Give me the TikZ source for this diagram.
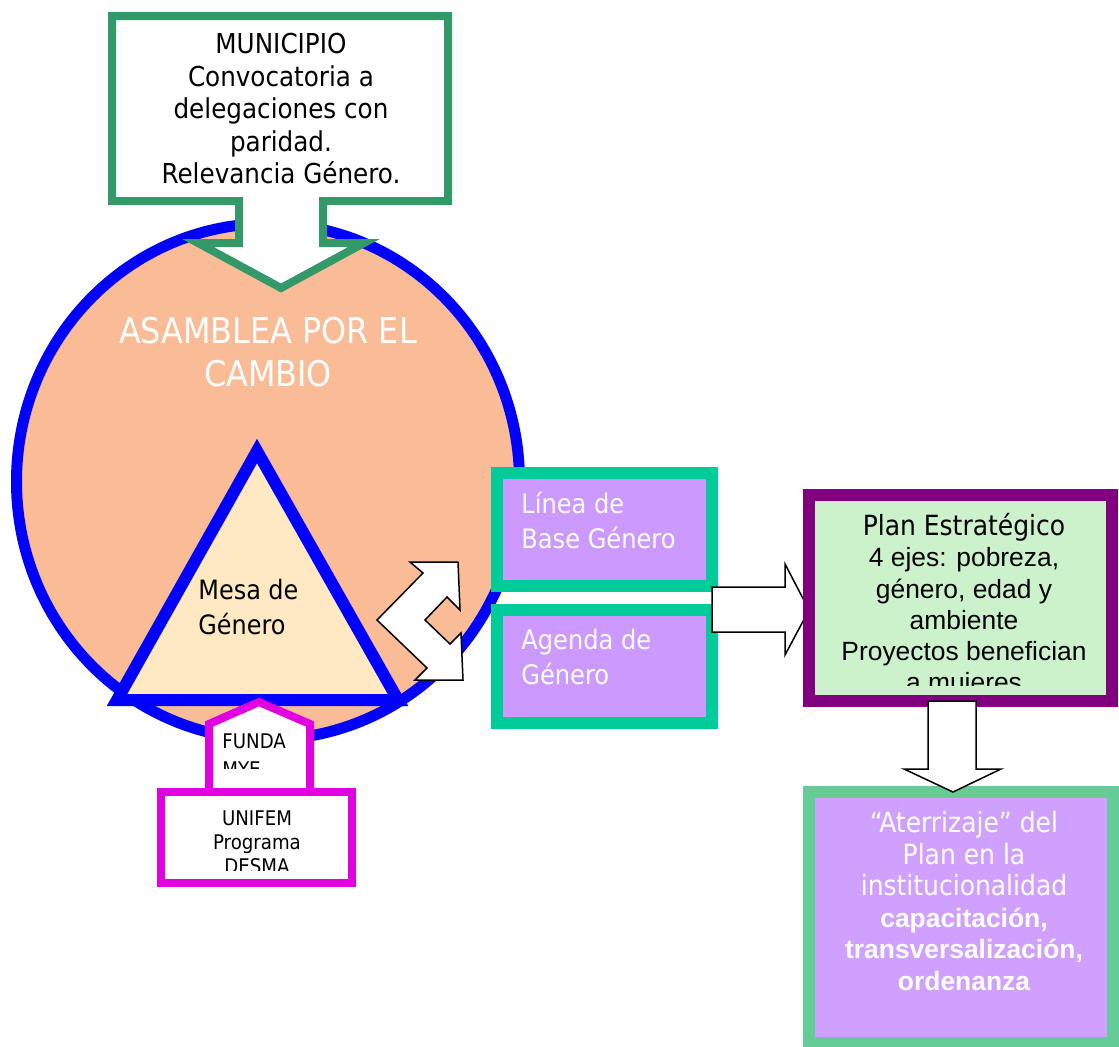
\documentclass[tikz,border=0pt]{standalone}
\usepackage{fontspec}
\setmainfont{DejaVu Sans Condensed}
\newfontfamily\arialfont{Liberation Sans}
\newcommand{\arialbold}{\arialfont\bfseries\fontsize{13.2}{15.8}\selectfont}

\definecolor{peach}{RGB}{250,188,150}
\definecolor{cream}{RGB}{255,233,194}
\definecolor{callgreen}{RGB}{52,153,104}
\definecolor{boxteal}{RGB}{0,204,153}
\definecolor{lilac}{RGB}{204,153,255}
\definecolor{palelilac}{RGB}{208,160,255}
\definecolor{planpurple}{RGB}{128,0,128}
\definecolor{planfill}{RGB}{204,242,204}
\definecolor{landgreen}{RGB}{100,204,150}
\definecolor{fundamag}{RGB}{224,0,224}

\tikzset{
  blockarrow/.style={draw=black, fill=white, line width=0.75pt},
  txt/.style={inner sep=0pt, anchor=north, align=center},
}

\begin{document}
\begin{tikzpicture}[x=0.5pt, y=-0.5pt]
    \useasboundingbox (0,0) rectangle (1119,1046);

    % asamblea
    \draw [blue, line width=5.5pt, fill=peach] (268,481.5) ellipse [x radius=251.5, y radius=258];
    \draw [blue, line width=6pt, fill=cream] (257,451) -- (398,700) -- (117,700) -- cycle;
    \node [txt, white, font=\fontsize{17.7}{21.5}\selectfont] (asamblea) at (268,317) {ASAMBLEA POR EL\\CAMBIO};
    \node [txt, anchor=north west, align=left, font=\fontsize{13.3}{17.5}\selectfont] (mesa) at (198,579) {Mesa de\\Género};

    % municipio
    \draw [callgreen, line width=4pt, fill=white] (112,16) -- (448,16) -- (448,201) -- (323,201) -- (323,243) -- (364,243) -- (281,288) -- (198,243) -- (239,243) -- (239,201) -- (112,201) -- cycle;
    \node [txt, font=\fontsize{13.7}{16.25}\selectfont] (municipio) at (281,33) {MUNICIPIO\\Convocatoria a\\delegaciones con\\paridad.\\Relevancia Género.};

    \draw [blockarrow] (410,562) -- (458,562) -- (460,610) -- (447,597) -- (425,620) -- (450,644) -- (461,633) -- (463,680) -- (415,680) -- (427,668) -- (377,620) -- (423,573) -- cycle;

    % funda / unifem
    \draw [fundamag, line width=4pt, fill=white] (209,800) -- (209,724) -- (259,702) -- (310,724) -- (310,800) -- cycle;
    \begin{scope}
      \clip (200,700) rectangle (320,768);
      \node [txt, anchor=north west, align=left, font=\fontsize{10.1}{14}\selectfont] (funda) at (222,733) {FUNDA\\MYE};
    \end{scope}
    \draw [fundamag, line width=4pt, fill=white] (161,792) rectangle (352,883);
    \begin{scope}
      \clip (165,796) rectangle (348,870);
      \node [txt, font=\fontsize{10.1}{12}\selectfont] (unifem) at (257,810) {UNIFEM\\Programa\\DESMA};
    \end{scope}

    % linea base / agenda
    \draw [boxteal, line width=6pt, fill=lilac] (497,473) rectangle (712,586);
    \node [txt, anchor=north west, align=left, white, font=\fontsize{13.4}{17.5}\selectfont] (linea) at (521,492) {Línea de\\Base Género};
    \draw [boxteal, line width=6pt, fill=lilac] (497,610) rectangle (712,723);
    \node [txt, anchor=north west, align=left, white, font=\fontsize{13.4}{17.5}\selectfont] (agenda) at (521,629) {Agenda de\\Género};

    \draw [blockarrow] (712,587) -- (785,587) -- (785,564) -- (809,610) -- (785,655) -- (785,632) -- (712,632) -- cycle;

    % plan
    \draw [planpurple, line width=6pt, fill=planfill] (809,495) rectangle (1112,701);
    \begin{scope}
      \clip (815,500) rectangle (1106,685);
      \node [txt, font=\arialfont\fontsize{13.2}{15.6}\selectfont] (plan) at (964,513) {{\rmfamily\fontsize{13.9}{15.6}\selectfont Plan Estratégico}\\4 ejes: pobreza,\\género, edad y\\ambiente\\Proyectos benefician\\a mujeres};
    \end{scope}

    % aterrizaje
    \draw [landgreen, line width=6pt, fill=palelilac] (809,792) rectangle (1113,1043);
    \node [txt, white, font=\fontsize{13.9}{15.8}\selectfont] (aterrizaje) at (964,811) {“Aterrizaje” del\\Plan en la\\institucionalidad\\{\arialbold capacitación,}\\{\arialbold transversalización,}\\{\arialbold ordenanza}};

    \draw [blockarrow] (928,701) -- (976,701) -- (976,769) -- (1001,769) -- (953,792) -- (904,769) -- (928,769) -- cycle;
\end{tikzpicture}
\end{document}
